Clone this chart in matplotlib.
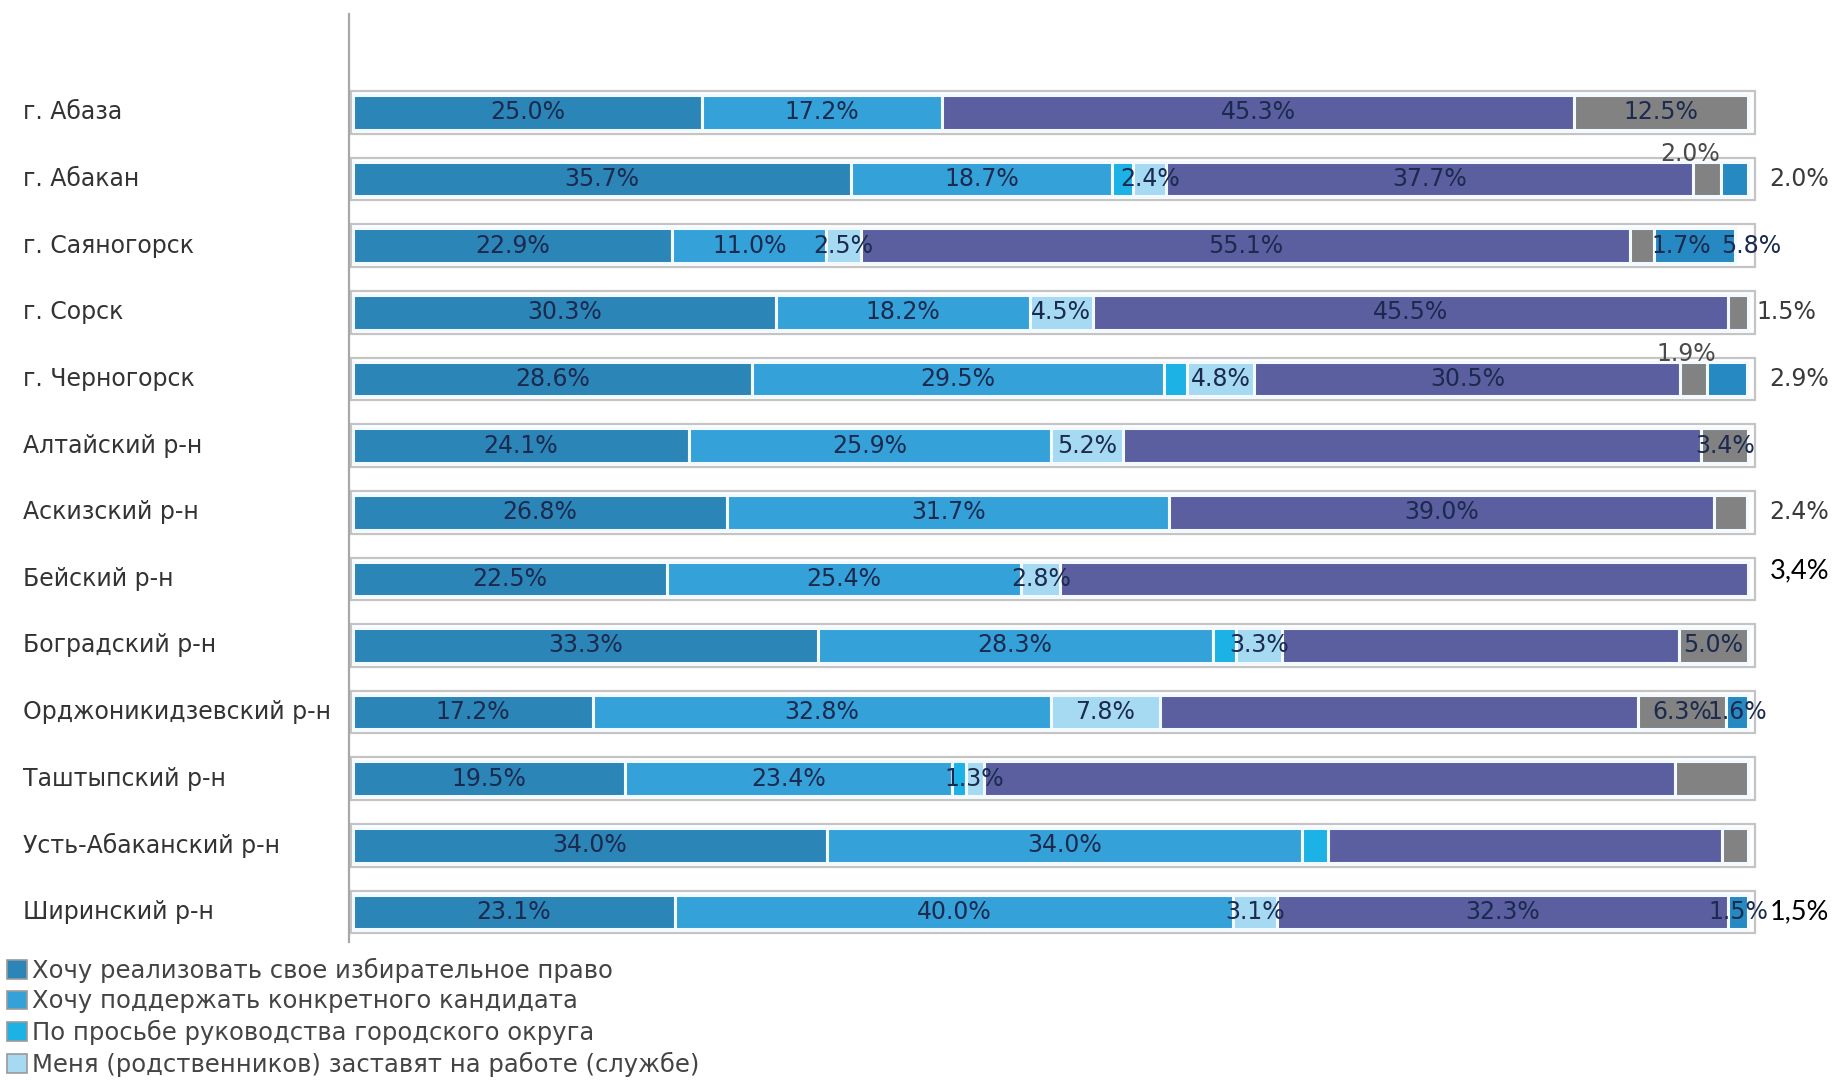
import numpy as np
import matplotlib
matplotlib.use('Agg')
import matplotlib.pyplot as plt
from matplotlib.patches import Patch
from matplotlib.transforms import blended_transform_factory

# categories (top to bottom)
categories = ['г. Абаза', 'г. Абакан', 'г. Саяногорск', 'г. Сорск', 'г. Черногорск',
              'Алтайский р-н', 'Аскизский р-н', 'Бейский р-н', 'Боградский р-н',
              'Орджоникидзевский р-н', 'Таштыпский р-н', 'Усть-Абаканский р-н',
              'Ширинский р-н']

# series values, %
s_right = [25.0, 35.7, 22.9, 30.3, 28.6, 24.1, 26.8, 22.5, 33.3, 17.2, 19.5, 34.0, 23.1]
s_cand = [17.2, 18.7, 11.0, 18.2, 29.5, 25.9, 31.7, 25.4, 28.3, 32.8, 23.4, 34.0, 40.0]
s_boss = [0, 1.5, 0, 0, 1.7, 0, 0, 0, 1.7, 0, 1.0, 1.9, 0]
s_forced = [0, 2.4, 2.5, 4.5, 4.8, 5.2, 0, 2.8, 3.3, 7.8, 1.3, 0, 3.1]
s_purple = [45.3, 37.7, 55.1, 45.5, 30.5, 41.4, 39.0, 49.3, 28.4, 34.3, 49.5, 28.2, 32.3]
s_gray = [12.5, 2.0, 1.7, 1.5, 1.9, 3.4, 2.4, 0, 5.0, 6.3, 5.3, 1.9, 0]
s_blue = [0, 2.0, 5.8, 0, 2.9, 0, 0, 0, 0, 1.6, 0, 0, 1.5]

legend_names = ['Хочу реализовать свое избирательное право',
                'Хочу поддержать конкретного кандидата',
                'По просьбе руководства городского округа',
                'Меня (родственников) заставят на работе (службе)']

# how each segment is labelled: c = centre, a = above, r = right of bar, - = none
label_modes = ['cc--cc-', 'cc-ccar', 'cc-cccc', 'cc-ccr-', 'cc-ccar', 'cc-c-c-', 'cc--cr-',
               'cc-c---', 'cc-c-c-', 'cc-c-cc', 'cc-c---', 'cc-----', 'cc-cc-c']
label_shift = {(1, 5): -1.2, (2, 5): 2.8, (2, 6): 4.1, (3, 5): -0.9, (4, 5): -0.5}

# extra notes added by hand
notes = ['3,4%', '1,5%']
note_rows = [7, 12]
note_dy = [-0.12, 0.0]

series = [s_right, s_cand, s_boss, s_forced, s_purple, s_gray, s_blue]
colors = ['#2b85b7', '#35a1d9', '#1cb2e6', '#a6daf2', '#5b5f9f', '#828282', '#2689c2']

fig = plt.figure(figsize=(18.35, 10.81), dpi=100)
ax = fig.add_axes([0.190, 0.1286, 0.81, 0.858])

y = np.arange(len(categories))

# light frame around every bar
ax.barh(y, 100.65, left=-0.15, height=0.64, color='white', edgecolor='#c4c4c4', linewidth=1.6)

left = np.zeros(len(categories))
for k, vals in enumerate(series):
    vals = np.array(vals, dtype=float)
    nz = vals > 0
    ax.barh(y[nz], vals[nz], left=left[nz], height=0.52, color=colors[k],
            edgecolor='#f2faff', linewidth=2.2)
    for i in np.where(nz)[0]:
        mode = label_modes[i][k]
        txt = f'{vals[i]:.1f}%'
        dx = label_shift.get((i, k), 0)
        if mode == 'c':
            ax.text(left[i] + vals[i] / 2 + dx, y[i], txt, ha='center', va='center',
                    fontsize=17, color='#1b2a4e')
        elif mode == 'a':
            ax.text(left[i] + vals[i] / 2 + dx, y[i] - 0.38, txt, ha='center', va='center',
                    fontsize=17, color='#4a4a4a')
        elif mode == 'r':
            ax.text(101.5 + dx, y[i], txt, ha='left', va='center',
                    fontsize=17, color='#3a3a3a')
    left += vals

for t, r, d in zip(notes, note_rows, note_dy):
    ax.text(101.5, r + d, t, ha='left', va='center', fontsize=19.5,
            family='Lato', color='black')

# category names, left aligned at the figure edge
trans = blended_transform_factory(fig.transFigure, ax.transData)
for yi, name in zip(y, categories):
    ax.text(0.0125, yi, name, transform=trans, ha='left', va='center',
            fontsize=17, color='#333333')

ax.set_xlim(-0.3, 106.2)
ax.set_ylim(12.45, -1.47)
ax.set_xticks([])
ax.set_yticks([])
for side in ['top', 'right', 'bottom']:
    ax.spines[side].set_visible(False)
ax.spines['left'].set_color('#a8a8a8')
ax.spines['left'].set_linewidth(1.6)

handles = [Patch(facecolor=c, edgecolor='#9a9a9a', linewidth=1.2) for c in colors[:4]]
fig.legend(handles, legend_names, loc='upper left', bbox_to_anchor=(0.004, 0.114),
           frameon=False, fontsize=17.5, handlelength=0.8, handleheight=0.8,
           handletextpad=0.2, labelspacing=0.27, borderpad=0, borderaxespad=0,
           labelcolor='#444444')

fig.savefig('out.png', dpi=100)
